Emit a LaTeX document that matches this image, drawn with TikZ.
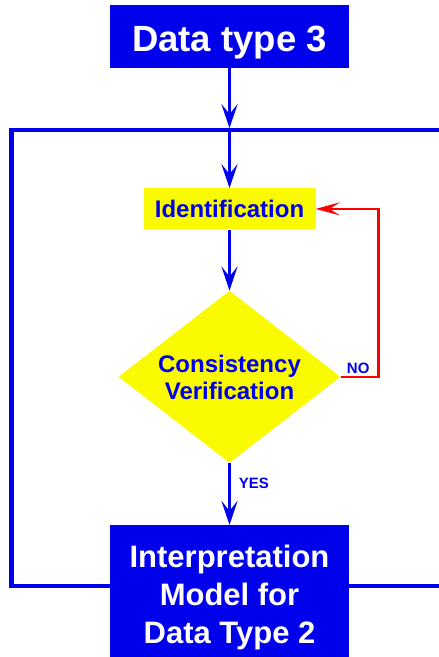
\documentclass[tikz,border=0pt]{standalone}
\usepackage{fontspec}
\setmainfont{Liberation Sans}
\usetikzlibrary{positioning,arrows.meta,shapes.geometric}
\definecolor{flowblue}{RGB}{0,0,235}
\definecolor{flowyellow}{RGB}{250,250,0}
\definecolor{flowred}{RGB}{255,0,0}

\begin{document}
\begin{tikzpicture}[
  x=1pt, y=1pt,
  blue node/.style={
    fill=flowblue,
    text=white,
    inner sep=0pt,
    minimum width=239pt,
    align=center,
    text depth=0pt,
  },
  yellow node/.style={
    fill=flowyellow,
    text=flowblue,
    inner sep=0pt,
    align=center,
    font=\fontsize{24}{27}\selectfont\bfseries,
    text height=17.5pt,
    text depth=0pt,
  },
  decision node/.style={
    yellow node,
    diamond,
    aspect=1.29,
    minimum width=222pt,
    minimum height=172pt,
    text height=44.5pt,
  },
  flow arrow/.style={
    -{Stealth[length=24pt,width=16pt,inset=10pt]},
    line width=3.5pt,
    flowblue,
  },
  loop arrow/.style={
    -{Stealth[length=24pt,width=13pt,inset=10pt]},
    line width=2.5pt,
    flowred,
  },
  frame line/.style={
    line width=4.5pt,
    flowblue,
  },
  answer/.style={
    text=flowblue,
    inner sep=1.5pt,
    font=\fontsize{15}{18}\selectfont\bfseries,
  },
  ]
  \useasboundingbox (0,0) rectangle (439,657);

  \node[blue node,minimum height=63pt,text height=30pt,
    font=\fontsize{36.5}{40}\selectfont\bfseries] (data3) at (229.5,620.5)
  {Data type 3};
  \coordinate[below=60pt of data3.south] (inlet);
  \node[yellow node,minimum width=172pt,minimum height=41pt,
    below=120pt of data3] (ident) {Identification};
  \node[decision node,below=61pt of ident] (verif)
  {Consistency\\Verification};
  \node[blue node,minimum height=133pt,text height=103pt,
    font=\fontsize{31}{38}\selectfont\bfseries,below=62pt of verif] (interp)
  {Interpretation\\Model for\\Data Type 2};

  \coordinate (frame nw) at (11.5,527);
  \coordinate (frame ne) at (439,527);
  \coordinate (frame sw) at (11.5,71);
  \coordinate (frame se) at (439,71);
  \coordinate[right=38pt of verif.east] (noturn);

  \path[draw,frame line] (interp.west |- frame sw) -- (frame sw)
  -- (frame nw) -- (frame ne);
  \path[draw,frame line] (interp.east |- frame se) -- (frame se);

  \path[draw,flow arrow] (data3) -- (inlet);
  \path[draw,flow arrow] (inlet) -- (ident);
  \path[draw,flow arrow] (ident) -- (verif);
  \path[draw,flow arrow] (verif) --
  node[answer,pos=.33,anchor=west,xshift=6pt] {YES} (interp);
  \path[draw,loop arrow] (verif.east) --
  node[answer,pos=0,anchor=south west,xshift=3.5pt] {NO} (noturn)
  |- (ident.east);
\end{tikzpicture}
\end{document}
